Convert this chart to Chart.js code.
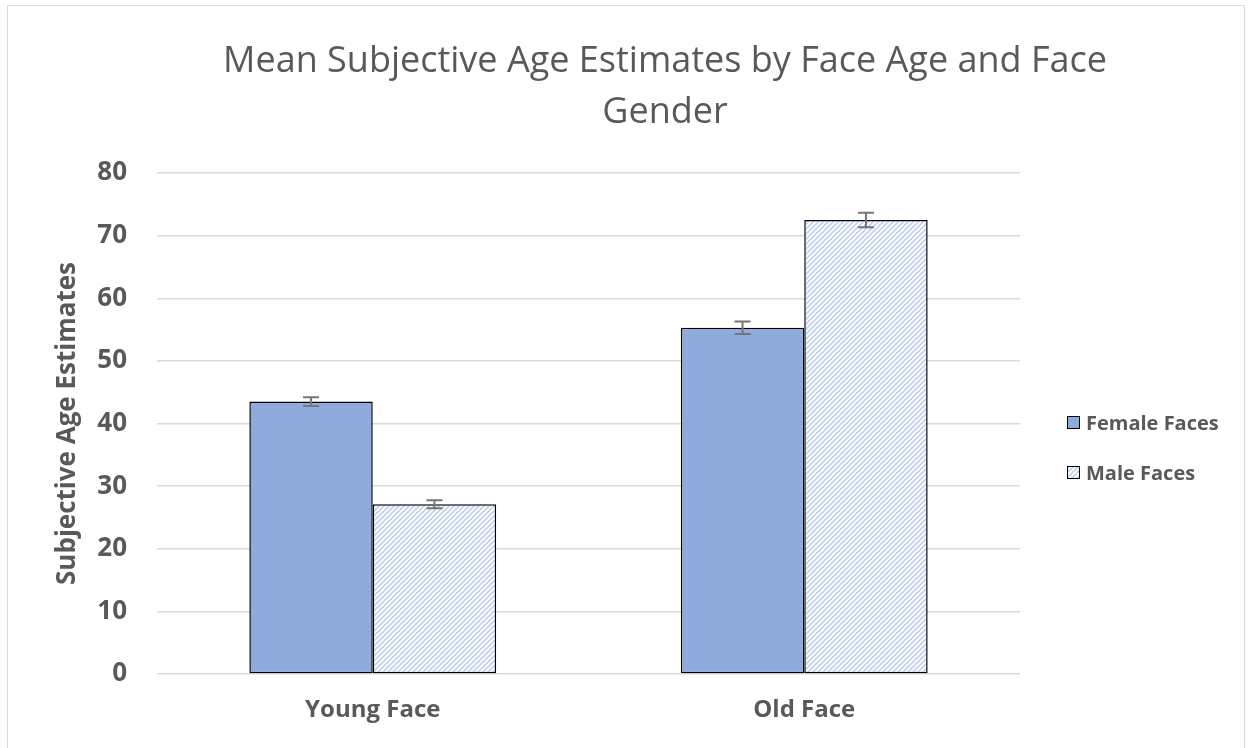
<!DOCTYPE html>
<html>
<head>
<meta charset="utf-8">
<script src="https://cdn.jsdelivr.net/npm/chart.js@4.4.1/dist/chart.umd.min.js"></script>
<style>
    html, body { margin: 0; padding: 0; background: #fff; }
    #wrap { position: relative; width: 1254px; height: 748px; overflow: hidden; }
    #frame { position: absolute; left: 7px; top: 5px; width: 1238px; height: 800px; border: 1px solid #d9d9d9; box-sizing: border-box; }
    canvas { position: absolute; left: 0; top: 0; }
    #title { position: absolute; left: 165px; width: 1000px; top: 33px; text-align: center; font-family: 'Open Sans', sans-serif; font-size: 36px; line-height: 51px; color: #595959; }
    .legend { position: absolute; left: 1067px; font-family: 'Open Sans', sans-serif; font-weight: bold; font-size: 20px; color: #595959; }
    .legend div { display: flex; align-items: center; height: 26px; }
    .legend span.box { display: inline-block; width: 11px; height: 11px; border: 1.5px solid #000; margin-right: 6px; }
</style>
</head>
<body>
<div id="wrap">
    <div id="frame"></div>
    <canvas id="chart" width="1254" height="748"></canvas>
    <div id="title"></div>
    <div class="legend" id="legend" style="top: 409px;"></div>
</div>
<script>
// Chart data
const titleLines = ['Mean Subjective Age Estimates by Face Age and Face', 'Gender'];
const categories = ['Young Face', 'Old Face'];
const seriesNames = ['Female Faces', 'Male Faces'];
const femaleMeans = [43.5, 55.3];
const maleMeans = [27.1, 72.5];
const femaleErrors = [0.7, 1.0];
const maleErrors = [0.65, 1.15];
const yTicks = [0, 10, 20, 30, 40, 50, 60, 70, 80];

const textColor = '#595959';
const fontFamily = "'Open Sans', sans-serif";

// Diagonal stripe fill for the male series
function makeStripes() {
    const c = document.createElement('canvas');
    c.width = 5;
    c.height = 5;
    const g = c.getContext('2d');
    g.fillStyle = '#ffffff';
    g.fillRect(0, 0, 5, 5);
    g.strokeStyle = '#bfd0ec';
    g.lineWidth = 1.6;
    g.beginPath();
    g.moveTo(-1, 6); g.lineTo(6, -1);
    g.moveTo(-1, 1); g.lineTo(1, -1);
    g.moveTo(4, 6); g.lineTo(6, 4);
    g.stroke();
    return c;
}
const stripeCanvas = makeStripes();
const ctx = document.getElementById('chart').getContext('2d');
const stripes = ctx.createPattern(stripeCanvas, 'repeat');

// Error bars drawn on top of each bar
const errorBars = {
    id: 'errorBars',
    afterDatasetsDraw(chart) {
        const g = chart.ctx;
        const y = chart.scales.y;
        chart.data.datasets.forEach((ds, i) => {
            const meta = chart.getDatasetMeta(i);
            meta.data.forEach((bar, j) => {
                const v = ds.data[j];
                const e = ds.errors[j];
                const top = y.getPixelForValue(v + e);
                const bot = y.getPixelForValue(v - e);
                g.save();
                g.strokeStyle = '#767676';
                g.lineWidth = 2;
                g.beginPath();
                g.moveTo(bar.x, top); g.lineTo(bar.x, bot);
                g.moveTo(bar.x - 8, top); g.lineTo(bar.x + 8, top);
                g.moveTo(bar.x - 8, bot); g.lineTo(bar.x + 8, bot);
                g.stroke();
                g.restore();
            });
        });
    }
};

new Chart(ctx, {
    type: 'bar',
    data: {
        labels: categories,
        datasets: [{
            label: seriesNames[0],
            data: femaleMeans,
            errors: femaleErrors,
            backgroundColor: '#8faadc',
            borderColor: '#000000',
            borderWidth: 1.5,
            borderSkipped: false
        }, {
            label: seriesNames[1],
            data: maleMeans,
            errors: maleErrors,
            backgroundColor: stripes,
            borderColor: '#000000',
            borderWidth: 1.5,
            borderSkipped: false
        }]
    },
    options: {
        responsive: false,
        animation: false,
        devicePixelRatio: 1,
        layout: {
            padding: { left: 7, right: 234, top: 173, bottom: 0 }
        },
        datasets: {
            bar: { categoryPercentage: 0.572, barPercentage: 1.0 }
        },
        plugins: {
            legend: { display: false },
            tooltip: { enabled: false },
            title: { display: false }
        },
        scales: {
            x: {
                grid: { display: false },
                border: { display: false },
                ticks: {
                    color: textColor,
                    padding: 14,
                    font: { family: fontFamily, size: 24, weight: 'bold' }
                },
                afterFit(scale) { scale.height = 74; }
            },
            y: {
                min: 0,
                max: 80,
                afterBuildTicks(scale) { scale.ticks = yTicks.map(v => ({ value: v })); },
                grid: { color: '#d9d9d9', lineWidth: 1.5, drawTicks: false },
                border: { display: false },
                ticks: {
                    color: textColor,
                    padding: 30,
                    font: { family: fontFamily, size: 26, weight: 'bold' }
                },
                title: {
                    display: true,
                    text: 'Subjective Age Estimates',
                    color: textColor,
                    padding: { top: 45, bottom: 0 },
                    font: { family: fontFamily, size: 26, weight: 'bold' }
                },
                afterFit(scale) { scale.width = 150; }
            }
        }
    },
    plugins: [errorBars]
});

// Title and legend built from the arrays above
document.getElementById('title').innerHTML = titleLines.join('<br>');

const legend = document.getElementById('legend');
seriesNames.forEach((name, i) => {
    const row = document.createElement('div');
    if (i > 0) row.style.marginTop = '24px';
    const box = document.createElement('span');
    box.className = 'box';
    if (i === 0) {
        box.style.background = '#8faadc';
    } else {
        box.style.backgroundImage = 'url(' + stripeCanvas.toDataURL() + ')';
    }
    row.appendChild(box);
    row.appendChild(document.createTextNode(name));
    legend.appendChild(row);
});
</script>
</body>
</html>
